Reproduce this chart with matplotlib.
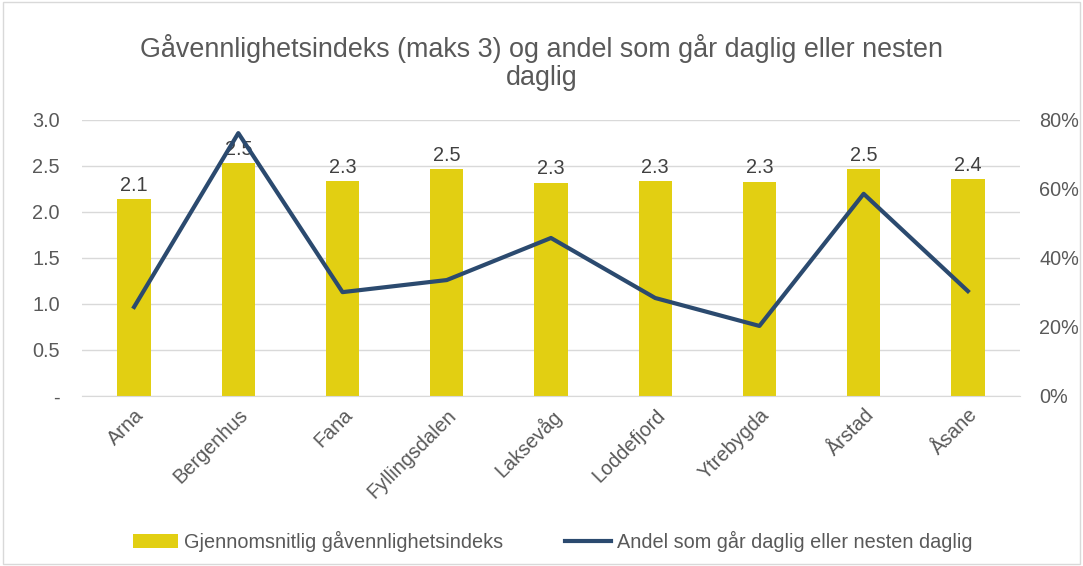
import numpy as np
import matplotlib.pyplot as plt
from matplotlib.ticker import FuncFormatter, PercentFormatter

plt.rcParams['font.family'] = ['Liberation Sans', 'DejaVu Sans']

# Data
bydeler = ['Arna', 'Bergenhus', 'Fana', 'Fyllingsdalen', 'Laksevåg',
           'Loddefjord', 'Ytrebygda', 'Årstad', 'Åsane']
indeks = [2.14, 2.53, 2.34, 2.47, 2.32, 2.34, 2.33, 2.47, 2.36]
andel_daglig = [25.8, 76.2, 30.1, 33.6, 45.8, 28.4, 20.3, 58.6, 30.4]

bar_color = '#E2CF12'
line_color = '#2B4A6F'
text_color = '#595959'
grid_color = '#D9D9D9'
fs = 14.3

fig = plt.figure(figsize=(10.83, 5.66), dpi=100)
ax = fig.add_axes([0.0757, 0.3004, 0.8661, 0.4876])
ax2 = ax.twinx()

x = np.arange(len(bydeler))
bars = ax.bar(x, indeks, width=0.32, color=bar_color, zorder=2,
              label='Gjennomsnitlig gåvennlighetsindeks')
for xi, v in zip(x, indeks):
    ax.annotate('{:.1f}'.format(v), (xi, v), xytext=(0, 3), textcoords='offset points',
                ha='center', va='bottom', fontsize=fs, color='#404040')

line, = ax2.plot(x, andel_daglig, color=line_color, linewidth=3, zorder=3,
                 label='Andel som går daglig eller nesten daglig')

ax.set_xlim(-0.5, len(bydeler) - 0.5)
ax.set_ylim(0, 3.0)
ax.set_yticks(np.arange(0, 3.01, 0.5))
ax.yaxis.set_major_formatter(FuncFormatter(lambda v, p: '-' if v == 0 else '{:.1f}'.format(v)))
ax2.set_ylim(0, 80)
ax2.set_yticks([0, 20, 40, 60, 80])
ax2.yaxis.set_major_formatter(PercentFormatter(decimals=0))

ax.grid(axis='y', color=grid_color, linewidth=1, zorder=0)
ax.set_axisbelow(True)
for a in (ax, ax2):
    for s in a.spines.values():
        s.set_visible(False)
    a.tick_params(length=0, labelsize=fs, labelcolor=text_color)
ax.spines['bottom'].set_visible(True)
ax.spines['bottom'].set_color(grid_color)
ax.tick_params(axis='y', pad=16)
ax2.tick_params(axis='y', pad=14)

ax.set_xticks(x)
ax.set_xticklabels(bydeler, rotation=45, ha='right', rotation_mode='anchor')
ax.tick_params(axis='x', pad=7)

fig.text(0.5, 0.89, 'Gåvennlighetsindeks (maks 3) og andel som går daglig eller nesten\ndaglig',
         ha='center', va='center', fontsize=19.4, color=text_color, linespacing=1.1)

fig.legend([bars, line], [bars.get_label(), line.get_label()], loc='center',
           bbox_to_anchor=(0.51, 0.044), ncol=2, frameon=False, fontsize=fs,
           handlelength=2.3, handletextpad=0.3, columnspacing=3.1, labelcolor=text_color)

border = plt.Rectangle((0.003, 0.003), 0.994, 0.994, transform=fig.transFigure,
                       fill=False, edgecolor='#D9D9D9', linewidth=1)
fig.patches.append(border)

fig.savefig('out.png', dpi=100)
